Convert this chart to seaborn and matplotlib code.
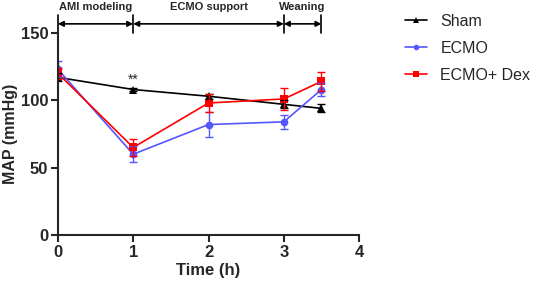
import numpy as np
import pandas as pd
import seaborn as sns
import matplotlib.pyplot as plt

# MAP over time, mean and error per group
TIME = [0, 1, 2, 3, 3.5]
GROUPS = ["Sham", "ECMO", "ECMO+ Dex"]
SHAM = [117, 108, 103, 97, 94]
SHAM_ERR = [3, 1, 2, 3, 3]
ECMO = [123, 60, 82, 84, 108]
ECMO_ERR = [6, 6, 9, 5, 5]
DEX = [120, 65, 98, 101, 114]
DEX_ERR = [4, 6, 7, 8, 7]

PHASES = ["AMI modeling", "ECMO support", "Weaning"]
PHASE_EDGES = [0, 1, 3, 3.5]

sns.set_style("ticks")
plt.rcParams['font.family'] = ['Liberation Sans', 'DejaVu Sans']

df = pd.DataFrame({
    "Time": TIME * 3,
    "MAP": SHAM + ECMO + DEX,
    "err": SHAM_ERR + ECMO_ERR + DEX_ERR,
    "Group": [g for g in GROUPS for _ in TIME],
})

colors = {"Sham": "#000000", "ECMO": "#5555ff", "ECMO+ Dex": "#ff0000"}
markers = {"Sham": "^", "ECMO": "o", "ECMO+ Dex": "s"}

fig = plt.figure(figsize=(5.36, 2.86), dpi=100)
ax = fig.add_axes([0.108, 0.178, 0.562, 0.707])

sns.lineplot(data=df, x="Time", y="MAP", hue="Group", style="Group",
             palette=colors, markers=markers, dashes=False, markersize=5.5,
             markeredgewidth=0, linewidth=1.2, ax=ax, legend=False)

for g in GROUPS:
    sub = df[df["Group"] == g]
    ax.errorbar(sub["Time"], sub["MAP"], yerr=sub["err"], fmt="none",
                ecolor=colors[g], elinewidth=1.0, capsize=3, capthick=1.0)

# legend entries
handles = [plt.Line2D([], [], color=colors[g], marker=markers[g], markersize=4,
                      markeredgewidth=0, linewidth=1.2) for g in GROUPS]
ax.legend(handles, GROUPS, loc="upper left", bbox_to_anchor=(1.105, 1.165),
          frameon=False, fontsize=11.5, handlelength=1.4, handletextpad=0.8,
          labelspacing=0.75)

# asterisks at 1 h
ax.text(1, 110, "**", ha="center", va="bottom", fontsize=10)

# phase brackets above the plot
for xe in PHASE_EDGES:
    ax.plot([xe, xe], [150, 163.5], color="black", lw=1.2, clip_on=False)
for i, name in enumerate(PHASES):
    x0, x1 = PHASE_EDGES[i], PHASE_EDGES[i + 1]
    ax.annotate("", xy=(x0, 156.7), xytext=(x1, 156.7),
                arrowprops=dict(arrowstyle="<|-|>", color="black", lw=1.2,
                                shrinkA=0, shrinkB=0, mutation_scale=8),
                annotation_clip=False)
    ax.text((x0 + x1) / 2, 169.5, name, ha="center", va="center",
            fontsize=8, fontweight="semibold")

ax.set_xlim(0, 4)
ax.set_ylim(0, 150)
ax.set_xticks([0, 1, 2, 3, 4])
ax.set_yticks([0, 50, 100, 150])
ax.set_xlabel("Time (h)", fontsize=12, fontweight="bold", labelpad=2)
ax.set_ylabel("MAP (mmHg)", fontsize=11.5, fontweight="bold", labelpad=2)
for lab in ax.get_xticklabels() + ax.get_yticklabels():
    lab.set_fontweight("bold")
    lab.set_fontsize(12)
ax.tick_params(width=1.5, length=5, pad=2)
for s in ["left", "bottom"]:
    ax.spines[s].set_linewidth(1.5)
sns.despine(ax=ax)

fig.savefig("out.png", dpi=100)
